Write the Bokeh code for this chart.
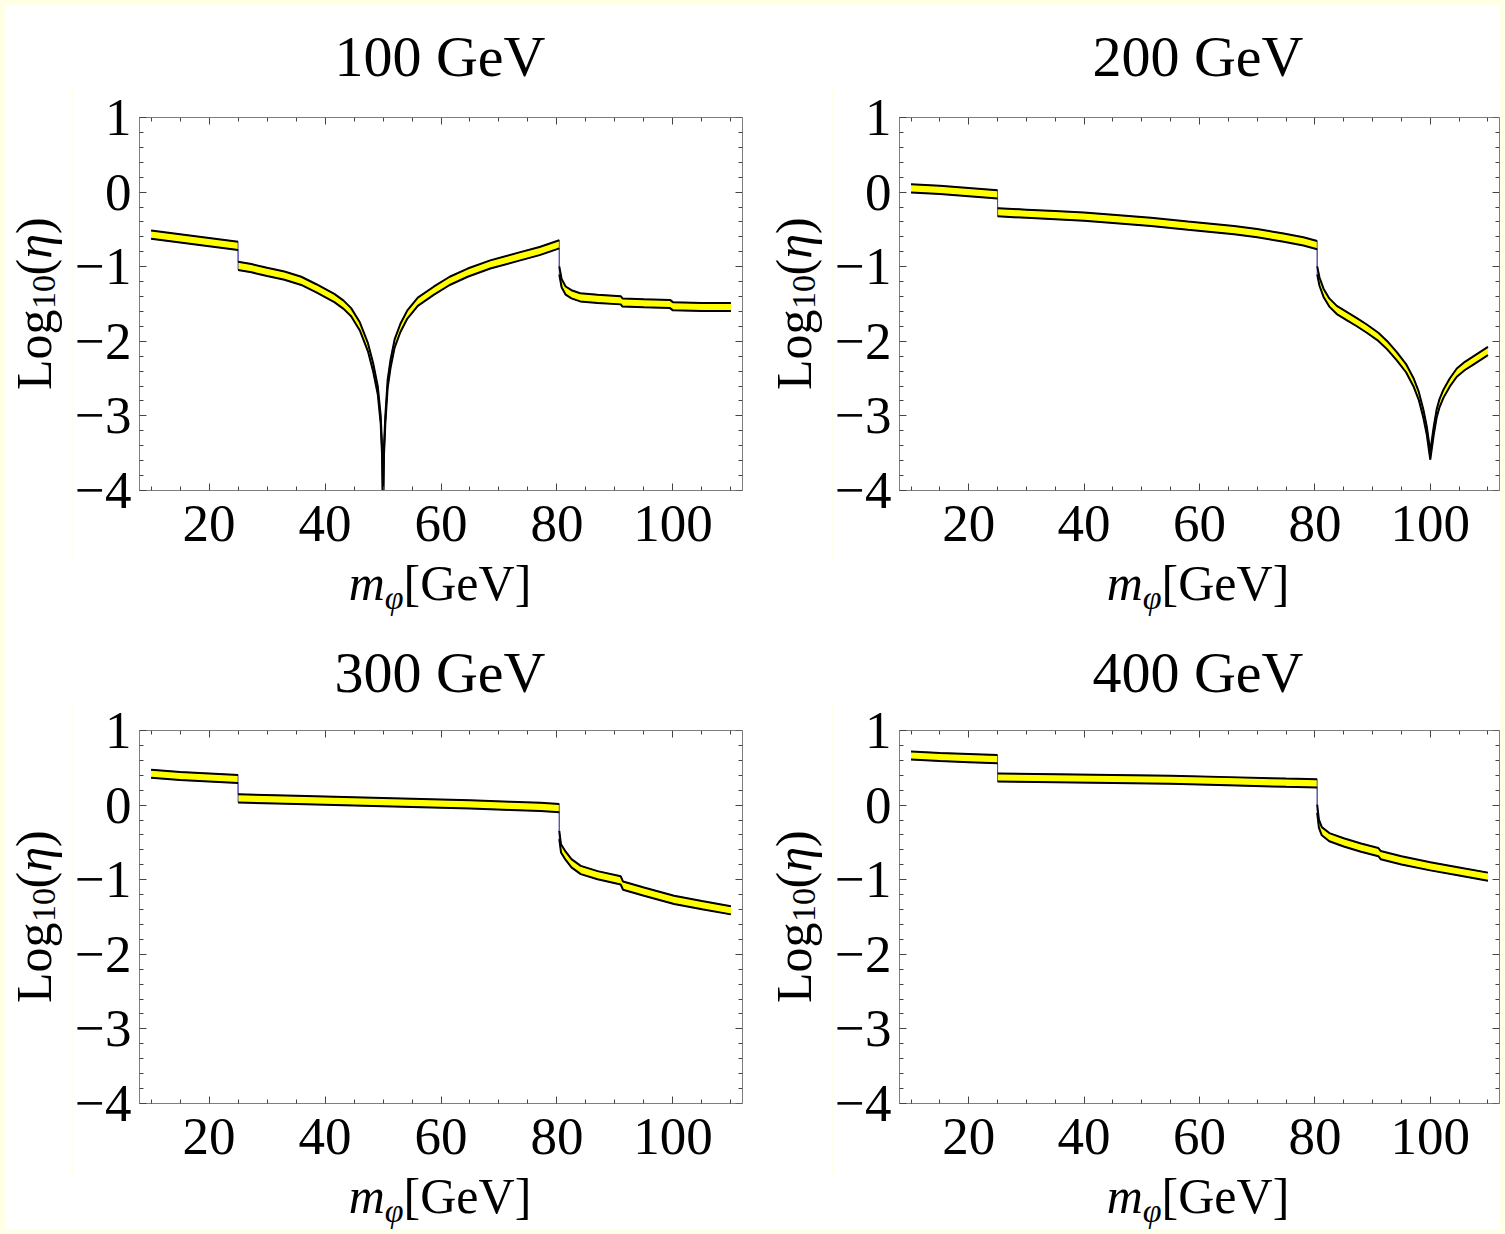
import numpy as np
from bokeh.plotting import figure
from bokeh.layouts import column, row
from bokeh.models import LinearAxis, Range1d, FixedTicker, Div
from bokeh.embed import file_html
from bokeh.resources import INLINE

# ---------------- data ----------------
TITLES = ["100 GeV", "200 GeV", "300 GeV", "400 GeV"]
X_TICKS = [20, 40, 60, 80, 100]
Y_TICKS = [-4, -3, -2, -1, 0, 1]
Y_TICK_LABELS = ["\u22124", "\u22123", "\u22122", "\u22121", "0", "1"]
X_RANGE = (8, 112)
Y_RANGE = (-4, 1)
BAND = 0.11  # width of the yellow band in log10 units

x_100 = [10, 15, 20, 25, 25, 27.3, 30, 33, 35.9, 38.5, 41.6, 43.2, 44.5, 46, 47.4, 48.3, 49.1, 49.6, 49.85,
         50, 50.15, 50.4, 50.8, 51.3, 52, 53, 54.2, 56, 58.8, 61.5, 64.6, 68.5, 73.2, 77, 80.4, 80.4, 80.8,
         81.5, 82.5, 84, 87, 91, 91.3, 95, 99.5, 100, 105, 110]
y_100 = [-0.57, -0.62, -0.67, -0.72, -0.99, -1.02, -1.07, -1.12, -1.19, -1.29, -1.42, -1.51, -1.61, -1.80,
         -2.08, -2.35, -2.66, -3.05, -3.5, -4.3, -3.5, -3.05, -2.57, -2.3, -2.03, -1.82, -1.64, -1.47, -1.32,
         -1.19, -1.08, -0.97, -0.87, -0.79, -0.70, -1.05, -1.22, -1.32, -1.37, -1.41, -1.43, -1.45, -1.48,
         -1.49, -1.50, -1.53, -1.54, -1.54]

x_200 = [10, 15, 20, 25, 25, 30, 35, 40, 45, 51.6, 58, 66, 70, 74.6, 78, 80.4, 80.4, 80.8, 81.5, 82.5, 83.8,
         85.5, 87.2, 89, 91, 92.5, 94.2, 95.8, 97.1, 98, 98.8, 99.4, 99.8, 100, 100.2, 100.6, 101.1, 101.6,
         102.3, 103.4, 104.6, 106, 107.4, 110]
y_200 = [0.05, 0.03, 0.0, -0.03, -0.27, -0.29, -0.31, -0.33, -0.36, -0.40, -0.45, -0.51, -0.55, -0.61, -0.66,
         -0.71, -1.05, -1.2, -1.35, -1.48, -1.58, -1.66, -1.74, -1.83, -1.94, -2.05, -2.20, -2.36, -2.55,
         -2.73, -2.97, -3.2, -3.42, -3.53, -3.42, -3.2, -2.97, -2.83, -2.70, -2.55, -2.42, -2.33, -2.26, -2.13]

x_300 = [10, 15, 20, 25, 25, 35, 45, 55, 65, 72, 77.2, 80.4, 80.4, 80.7, 81.5, 82.5, 84.1, 87, 91, 91.4, 95,
         100.2, 105, 110]
y_300 = [0.42, 0.39, 0.37, 0.35, 0.09, 0.07, 0.05, 0.03, 0.01, -0.01, -0.025, -0.04, -0.40, -0.58, -0.68,
         -0.78, -0.87, -0.94, -1.01, -1.08, -1.16, -1.27, -1.34, -1.41]

x_400 = [10, 15, 20, 25, 25, 35, 45, 55, 65, 75, 80.4, 80.4, 80.7, 81.2, 82.5, 85, 88, 91, 91.4, 95, 100,
         105, 110]
y_400 = [0.665, 0.645, 0.63, 0.615, 0.37, 0.36, 0.35, 0.34, 0.32, 0.30, 0.29, -0.05, -0.25, -0.35, -0.43,
         -0.50, -0.57, -0.63, -0.67, -0.74, -0.82, -0.89, -0.96]

SERIES = [(x_100, y_100), (x_200, y_200), (x_300, y_300), (x_400, y_400)]

FONT = "Liberation Serif"
FONT_CSS = "'Liberation Serif', 'Times New Roman', serif"
TICK_SIZE = 53
LABEL_SIZE = 50
SUB_SIZE = 34
TITLE_SIZE = 58

# ---------------- layout geometry (pixels) ----------------
YLAB_W = 67
COL_BL = [66, 65]      # figure left border
COL_FW = [604, 602]    # frame width
COL_BR = [23, 1]       # figure right border
ROW_TITLE_H = [80, 80]
ROW_BT = [32, 29]      # figure top border
FRAME_H = 373
BB = 74                # figure bottom border
ROW_XLAB_H = [57, 52]
TITLE_BASE = 72        # title baseline below top of title strip
XLAB_BASE = 36         # x-label baseline below top of x-label strip


def break_at_jumps(xs, ys):
    ox, oy = [], []
    for i, (a, b) in enumerate(zip(xs, ys)):
        if i > 0 and a == xs[i - 1]:
            ox.append(np.nan)
            oy.append(np.nan)
        ox.append(a)
        oy.append(b)
    return ox, oy


def html_div(W, H, inner_style, content):
    html = (f'<div style="position:relative;width:{W}px;height:{H}px;background:white;">'
            f'<div style="position:absolute;white-space:nowrap;color:black;font-family:{FONT_CSS};'
            f'{inner_style}">{content}</div></div>')
    return Div(text=html, width=W, height=H, margin=0, styles={"background-color": "white"})


def make_figure(xs, cs, W, H, bl, br, bt, bb):
    p = figure(width=W, height=H, x_range=Range1d(*X_RANGE), y_range=Range1d(*Y_RANGE),
               output_backend="svg", toolbar_location=None,
               min_border_left=bl, min_border_right=br, min_border_top=bt, min_border_bottom=bb)
    p.background_fill_color = "white"
    p.border_fill_color = "white"
    p.outline_line_color = "#7f7f7f"
    p.outline_line_width = 1
    p.grid.visible = False

    xminor = [v for v in range(10, 115, 5) if v not in X_TICKS]
    yminor = [round(v, 1) for v in np.arange(-4, 1.01, 0.2) if round(v, 1) not in Y_TICKS]

    def style(ax):
        ax.axis_line_color = "#7f7f7f"
        ax.major_tick_line_color = "#444444"
        ax.minor_tick_line_color = "#444444"
        ax.major_tick_in = 7
        ax.major_tick_out = 0
        ax.minor_tick_in = 4
        ax.minor_tick_out = 0
        ax.major_label_text_font = FONT
        ax.major_label_text_color = "black"
        ax.major_label_text_font_size = f"{TICK_SIZE}px"

    xa = p.xaxis[0]
    xa.ticker = FixedTicker(ticks=X_TICKS, minor_ticks=xminor)
    style(xa)
    xa.major_label_standoff = 15
    ya = p.yaxis[0]
    ya.ticker = FixedTicker(ticks=Y_TICKS, minor_ticks=yminor)
    style(ya)
    ya.major_label_standoff = 8
    ya.major_label_overrides = {t: s for t, s in zip(Y_TICKS, Y_TICK_LABELS)}

    # tick marks on the top and right edges (no labels): minor-tick-only axes
    for side, loc, ticks_long, ticks_short in (("above", Y_RANGE[1], X_TICKS, xminor),
                                              ("right", X_RANGE[1], Y_TICKS, yminor)):
        for k, (tks, ln) in enumerate(((ticks_long, 7), (ticks_short, 4))):
            ax = LinearAxis(ticker=FixedTicker(ticks=[], minor_ticks=tks), fixed_location=loc)
            ax.axis_line_color = "#7f7f7f" if k == 0 else None
            ax.minor_tick_line_color = "#444444"
            ax.minor_tick_in = ln
            ax.minor_tick_out = 0
            ax.major_tick_in = 0
            ax.major_tick_out = 0
            p.add_layout(ax, side)

    # band
    xs_a = np.array(xs, dtype=float)
    cs_a = np.array(cs, dtype=float)
    upper = cs_a + BAND / 2
    lower = cs_a - BAND / 2
    p.varea(x=xs_a, y1=lower, y2=upper, fill_color="#FFFF00", fill_alpha=1.0)
    p.line(xs_a, upper, line_color="#5050B0", line_width=1)
    p.line(xs_a, lower, line_color="#5050B0", line_width=1)
    bx, bu = break_at_jumps(list(xs_a), list(upper))
    _, blo = break_at_jumps(list(xs_a), list(lower))
    p.line(bx, bu, line_color="black", line_width=2)
    p.line(bx, blo, line_color="black", line_width=2)
    return p


blocks = []
for i, (title, (xs, cs)) in enumerate(zip(TITLES, SERIES)):
    r, c = divmod(i, 2)
    bl, fw, br = COL_BL[c], COL_FW[c], COL_BR[c]
    bt = ROW_BT[r]
    fig_w = bl + fw + br
    fig_h = bt + FRAME_H + BB
    block_w = YLAB_W + fig_w
    frame_left = YLAB_W + bl

    fig = make_figure(xs, cs, fig_w, fig_h, bl, br, bt, BB)

    # title strip
    lh = TITLE_SIZE
    t_top = TITLE_BASE - ((lh - 1.107 * TITLE_SIZE) / 2 + 0.891 * TITLE_SIZE)
    title_div = html_div(block_w, ROW_TITLE_H[r],
                         f"left:{frame_left}px;width:{fw}px;top:{t_top:.1f}px;text-align:center;"
                         f"font-size:{TITLE_SIZE}px;line-height:{lh}px;",
                         title)

    # y label (rotated, reads bottom to top)
    ylab_div = html_div(YLAB_W, fig_h,
                        f"left:4px;top:{bt}px;width:{LABEL_SIZE}px;height:{FRAME_H}px;"
                        f"writing-mode:vertical-rl;transform:rotate(180deg);text-align:center;"
                        f"font-size:{LABEL_SIZE}px;line-height:{LABEL_SIZE}px;",
                        f'Log<span style="font-size:{SUB_SIZE}px;position:relative;left:-10px;'
                        f'color:black;">10</span>(<i>\u03b7</i>)')

    # x label
    lh = 40
    x_top = XLAB_BASE - ((lh - 1.107 * LABEL_SIZE) / 2 + 0.891 * LABEL_SIZE)
    xlab_div = html_div(block_w, ROW_XLAB_H[r],
                        f"left:{frame_left}px;width:{fw}px;top:{x_top:.1f}px;text-align:center;"
                        f"font-size:{LABEL_SIZE}px;line-height:{lh}px;",
                        f'<i>m</i><span style="font-size:{SUB_SIZE}px;position:relative;top:9px;">'
                        f'<i>\u03c6</i></span>[GeV]')

    blocks.append(column(title_div, row(ylab_div, fig), xlab_div))

layout = column(row(blocks[0], blocks[1]), row(blocks[2], blocks[3]))

template = """
{% block postamble %}
<style>html, body { background: #FFFFE6; } body { padding: 5px 0 0 5px; }</style>
{% endblock %}
"""
open("out.html", "w").write(file_html(layout, INLINE, template=template))
